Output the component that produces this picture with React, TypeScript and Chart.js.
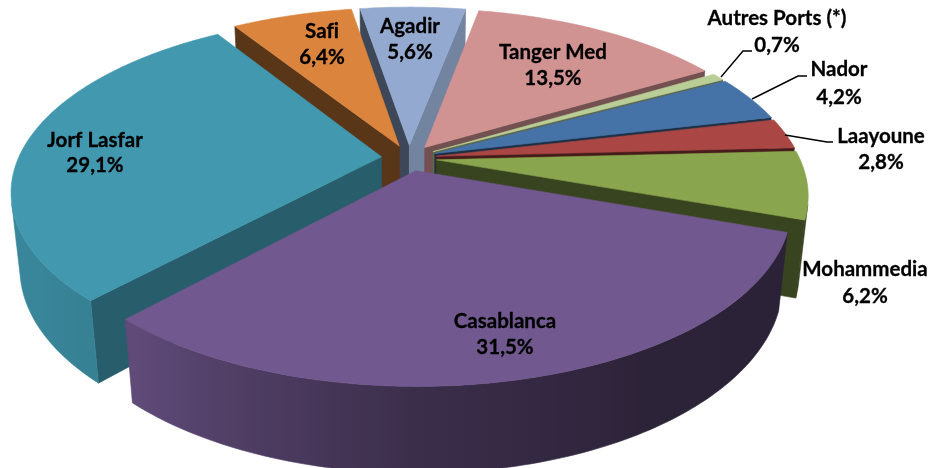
import React, { useEffect, useRef } from "react";
import { Chart, registerables } from "chart.js";

Chart.register(...registerables);

const categories = ["Casablanca", "Jorf Lasfar", "Safi", "Agadir", "Tanger Med", "Autres Ports (*)", "Nador", "Laayoune", "Mohammedia"];
const shares = [31.5, 29.1, 6.4, 5.6, 13.5, 0.7, 4.2, 2.8, 6.2];
const colors = ["#71588F", "#4198AF", "#DB843D", "#93A9CF", "#D19392", "#B9CD96", "#4572A7", "#AA4643", "#89A54E"];

// wall brightness for the radial faces, [start face, end face]
const wallShade = [[0.6, 0.6], [0.61, 0.61], [0.41, 0.41], [0.42, 0.78], [0.55, 0.55], [0.5, 0.5], [0.42, 0.42], [0.42, 0.42], [0.41, 0.41]];
// outer-wall brightness by facing angle (deg)
const curveStops = [[-40, 0.38], [20, 0.38], [60, 0.4], [90, 0.52], [110, 0.68], [130, 0.84], [150, 0.88], [230, 0.88]];

// label layout: centre x, first line y, second line y
const labelPos = [[505, 321, 347], [95, 140, 165], [322, 31, 57], [410, 26, 52], [553, 52, 78], [777, 18, 45], [839, 69, 97], [881, 136, 162], [865, 269, 296]];
const leaders = [
  [[721, 77], [743, 51], [752, 51]],
  [[752, 99], [798, 76], [807, 76]],
  [[785, 135], [827, 142], [833, 142]],
];

// projection constants of the 3D view
const view = { cx: 409, cy: 158, A: 363, a: 169, p: 0.191, q: 0.022, D: 76 };

function project(u: number, v: number, h: number): [number, number] {
  const w = 1 - view.p * v + view.q * h;
  return [view.cx + (view.A * u) / w, view.cy + (view.a * v + view.D * h) / w];
}

function shadeColor(hex: string, f: number) {
  const n = parseInt(hex.slice(1), 16);
  return `rgb(${Math.round(((n >> 16) & 255) * f)},${Math.round(((n >> 8) & 255) * f)},${Math.round((n & 255) * f)})`;
}

function curveShade(deg: number) {
  let d = deg;
  while (d > 230) d -= 360;
  while (d < -40) d += 360;
  for (let i = 1; i < curveStops.length; i++) {
    const [a, fa] = curveStops[i - 1];
    const [b, fb] = curveStops[i];
    if (d <= b) return fa + ((fb - fa) * (d - a)) / (b - a);
  }
  return 0.88;
}

function area(pts: [number, number][]) {
  let s = 0;
  pts.forEach((p, i) => {
    const q = pts[(i + 1) % pts.length];
    s += p[0] * q[1] - q[0] * p[1];
  });
  return s;
}

function fillPoly(ctx: CanvasRenderingContext2D, pts: [number, number][], color: any) {
  ctx.beginPath();
  pts.forEach((p, i) => (i ? ctx.lineTo(p[0], p[1]) : ctx.moveTo(p[0], p[1])));
  ctx.closePath();
  ctx.fillStyle = color;
  ctx.strokeStyle = color;
  ctx.lineWidth = 0.6;
  ctx.fill();
  ctx.stroke();
}

const pie3d = {
  id: "pie3d",
  beforeDatasetsDraw(chart: any) {
    const ctx: CanvasRenderingContext2D = chart.ctx;
    const arcs: any[] = chart.getDatasetMeta(0).data;
    const order = arcs
      .map((arc, i) => ({ arc, i, mid: (arc.startAngle + arc.endAngle) / 2 }))
      .sort((a, b) => Math.sin(a.mid) - Math.sin(b.mid));
    ctx.save();
    for (const { arc, i, mid } of order) {
      const color = arc.options.backgroundColor as string;
      const e = (arc.options.offset || 0) / 4 / arc.outerRadius;
      const ox = Math.cos(mid) * e;
      const oy = Math.sin(mid) * e;
      const steps = Math.max(2, Math.ceil(((arc.endAngle - arc.startAngle) * 180) / Math.PI));
      const ring: { u: number; v: number; t: number }[] = [];
      for (let s = 0; s <= steps; s++) {
        const t = arc.startAngle + ((arc.endAngle - arc.startAngle) * s) / steps;
        ring.push({ u: ox + Math.cos(t), v: oy + Math.sin(t), t });
      }
      const first = ring[0];
      const last = ring[ring.length - 1];
      const startWall: [number, number][] = [project(ox, oy, 0), project(first.u, first.v, 0), project(first.u, first.v, 1), project(ox, oy, 1)];
      const endWall: [number, number][] = [project(ox, oy, 0), project(last.u, last.v, 0), project(last.u, last.v, 1), project(ox, oy, 1)];
      if (area(startWall) < 0) fillPoly(ctx, startWall, shadeColor(color, wallShade[i][0]));
      if (area(endWall) > 0) fillPoly(ctx, endWall, shadeColor(color, wallShade[i][1]));
      // outer wall: one polygon per slice, shaded by a horizontal gradient
      const upper: [number, number][] = [];
      const lower: [number, number][] = [];
      const shades: { x: number; f: number }[] = [];
      for (let s = 0; s < steps; s++) {
        const a = ring[s];
        const b = ring[s + 1];
        const quad: [number, number][] = [project(a.u, a.v, 0), project(b.u, b.v, 0), project(b.u, b.v, 1), project(a.u, a.v, 1)];
        if (area(quad) < 0) {
          if (!upper.length) {
            upper.push(quad[0]);
            lower.push(quad[3]);
          }
          upper.push(quad[1]);
          lower.push(quad[2]);
          shades.push({ x: (quad[0][0] + quad[1][0]) / 2, f: curveShade((((a.t + b.t) / 2) * 180) / Math.PI) });
        }
      }
      if (upper.length) {
        const poly = [...upper, ...lower.reverse()];
        const xs = poly.map((p) => p[0]);
        const minX = Math.min(...xs);
        const maxX = Math.max(...xs);
        const grad = ctx.createLinearGradient(minX, 0, maxX, 0);
        for (const sh of shades) grad.addColorStop(Math.min(1, Math.max(0, (sh.x - minX) / (maxX - minX || 1))), shadeColor(color, sh.f));
        fillPoly(ctx, poly, grad);
      }
      const top: [number, number][] = [project(ox, oy, 0), ...ring.map((r) => project(r.u, r.v, 0))];
      fillPoly(ctx, top, color);
    }
    ctx.restore();
    return false;
  },
  afterDraw(chart: any) {
    const ctx: CanvasRenderingContext2D = chart.ctx;
    ctx.save();
    ctx.strokeStyle = "#000";
    ctx.lineWidth = 1.4;
    for (const line of leaders) {
      ctx.beginPath();
      line.forEach((p, i) => (i ? ctx.lineTo(p[0], p[1]) : ctx.moveTo(p[0], p[1])));
      ctx.stroke();
    }
    ctx.fillStyle = "#000";
    ctx.strokeStyle = "#000";
    ctx.lineWidth = 0.3;
    ctx.font = "bold 20.5px Lato";
    (ctx as any).letterSpacing = "0.01px";
    ctx.textAlign = "center";
    ctx.textBaseline = "middle";
    categories.forEach((name, i) => {
      const [x, y1, y2] = labelPos[i];
      const pct = shares[i].toFixed(1).replace(".", ",") + "%";
      ctx.fillText(name, x, y1);
      ctx.strokeText(name, x, y1);
      ctx.fillText(pct, x, y2);
      ctx.strokeText(pct, x, y2);
    });
    ctx.restore();
  },
};

export default function App() {
  const ref = useRef<HTMLCanvasElement>(null);
  useEffect(() => {
    document.body.style.margin = "0";
    document.body.style.background = "#fff";
    const chart = new Chart(ref.current!, {
      type: "pie",
      data: {
        labels: categories,
        datasets: [{ data: shares, backgroundColor: colors, borderWidth: 0, offset: 62 }],
      },
      options: {
        responsive: false,
        animation: false,
        rotation: 109.4,
        layout: { padding: 0 },
        plugins: { legend: { display: false }, tooltip: { enabled: false } },
      },
      plugins: [pie3d],
    } as any);
    return () => chart.destroy();
  }, []);
  return <canvas ref={ref} width={932} height={468} style={{ display: "block" }} />;
}
